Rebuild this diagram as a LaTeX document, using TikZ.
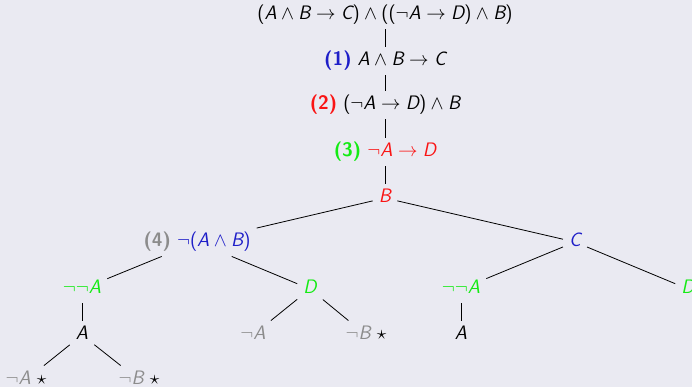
\RequirePackage{fix-cm}
\documentclass[tikz,border=0pt]{standalone}
\usepackage{fontspec}
\definecolor{bgc}{RGB}{234,234,242}
\definecolor{cblue}{RGB}{30,30,200}
\definecolor{cred}{RGB}{250,20,20}
\definecolor{cgreen}{RGB}{20,235,20}
\definecolor{cgray}{RGB}{140,140,140}
\newcommand\vA{\textsf{\itshape A}}
\newcommand\vB{\textsf{\itshape B}}
\newcommand\vC{\textsf{\itshape C}}
\newcommand\vD{\textsf{\itshape D}}
\newcommand\lp{\mathopen{\textsf{(}}}
\newcommand\rp{\mathclose{\textsf{)}}}
\newcommand\lbl[2]{{\color{#1}\bfseries(#2)}}
\tikzset{
  tnode/.style={font=\sffamily\fontsize{19.5}{23}\selectfont, text height=13.5pt, text depth=4pt, inner xsep=6pt, inner ysep=5.5pt},
  edge/.style={draw=black, line width=0.8pt}
}
\begin{document}
\begin{tikzpicture}[x=1pt,y=-1pt, every node/.style={tnode}]
\useasboundingbox[fill=bgc] (0,0) rectangle (692,387);
\node (root) at (385,15) {$\lp\vA\wedge\vB\to\vC\rp\wedge\lp\lp\neg\vA\to\vD\rp\wedge\vB\rp$};
\node (n1) at (385,61) {\lbl{cblue}{1} $\vA\wedge\vB\to\vC$};
\node (n2) at (385,105) {\lbl{cred}{2} $\lp\neg\vA\to\vD\rp\wedge\vB$};
\node (n3) at (385,152) {\lbl{cgreen}{3} {\color{cred}$\neg\vA\to\vD$}};
\node[text=cred] (nB) at (385,198) {$\vB$};
\node (n4) at (197,242) {\lbl{cgray}{4} {\color{cblue}$\neg\lp\vA\wedge\vB\rp$}};
\node[text=cblue] (nC) at (575,242) {$\vC$};
\node[text=cgreen] (nnA1) at (82,289) {$\neg\neg\vA$};
\node[text=cgreen] (nD1) at (310,289) {$\vD$};
\node[text=cgreen] (nnA2) at (461,289) {$\neg\neg\vA$};
\node[text=cgreen] (nD2) at (688,289) {$\vD$};
\node (nA1) at (82,335) {$\vA$};
\node[text=cgray] (nnegA) at (253,335) {$\neg\vA$};
\node (nnegB) at (366,335) {{\color{cgray}$\neg\vB$}~$\star$};
\node (nA2) at (461,335) {$\vA$};
\node (nx1) at (26,380) {{\color{cgray}$\neg\vA$}~$\star$};
\node (nx2) at (139,380) {{\color{cgray}$\neg\vB$}~$\star$};
\draw[edge] (root) -- (n1);
\draw[edge] (n1) -- (n2);
\draw[edge] (n2) -- (n3);
\draw[edge] (n3) -- (nB);
\draw[edge] (nB) -- (n4);
\draw[edge] (nB) -- (nC);
\draw[edge] (n4) -- (nnA1);
\draw[edge] (n4) -- (nD1);
\draw[edge] (nC) -- (nnA2);
\draw[edge] (nC) -- (nD2);
\draw[edge] (nnA1) -- (nA1);
\draw[edge] (nD1) -- (nnegA);
\draw[edge] (nD1) -- (nnegB);
\draw[edge] (nnA2) -- (nA2);
\draw[edge] (nA1) -- (nx1);
\draw[edge] (nA1) -- (nx2);
\end{tikzpicture}
\end{document}
